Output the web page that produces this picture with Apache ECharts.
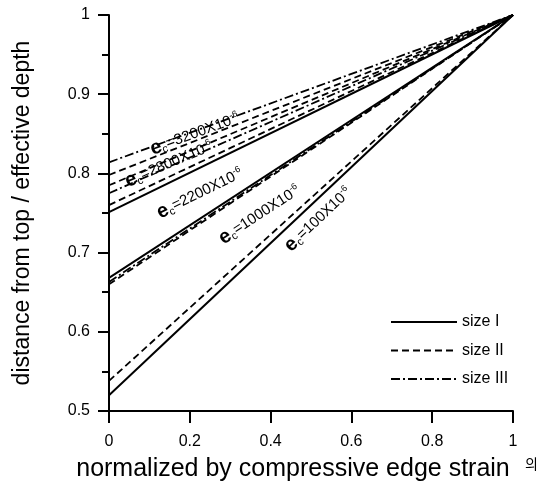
<!DOCTYPE html>
<html>
<head>
<meta charset="utf-8">
<script src="https://cdn.jsdelivr.net/npm/echarts@6/dist/echarts.min.js"></script>
<style>html,body{margin:0;padding:0;background:#fff}#c{width:560px;height:491px}</style>
</head>
<body>
<div id="c"></div>
<script>
// ---- data ----
const xTicks = [0, 0.2, 0.4, 0.6, 0.8, 1];
const yTicks = [0.5, 0.6, 0.7, 0.8, 0.9, 1];
// normalized depth at x = 0 for each strain level; all lines end at (1, 1)
const strainsI = [100, 1000, 2200];
const sizeI = [0.520, 0.668, 0.751];
const strainsII = [100, 1000, 2200, 2800, 3200];
const sizeII = [0.538, 0.660, 0.760, 0.785, 0.798];
const strainsIII = [1000, 2800, 3200];
const sizeIII = [0.663, 0.775, 0.814];
const labelStrains = [3200, 2800, 2200, 1000, 100];
const sizeNames = ['size I', 'size II', 'size III'];

// ---- label placement (annotation layout, not data) ----
const labelAnchor = {
  3200: {x: 0.212, y: 0.850, ref: 'III'},
  2800: {x: 0.148, y: 0.812, ref: 'II'},
  2200: {x: 0.225, y: 0.775, ref: 'I'},
  1000: {x: 0.373, y: 0.748, ref: 'I'},
  100:  {x: 0.518, y: 0.742, ref: 'I'}
};

const FONT = '"Liberation Sans", Arial, sans-serif';
const NARROW = '"Liberation Sans Narrow", "Arial Narrow", "Liberation Sans", sans-serif';
const styles = {
  'size I': {type: 'solid', width: 2},
  'size II': {type: [7, 4], width: 1.8},
  'size III': {type: [9, 3, 2, 3], width: 1.8}
};

function makeSeries(name, strains, vals) {
  return strains.map((s, i) => ({
    name: name,
    type: 'line',
    showSymbol: false,
    symbol: 'none',
    silent: true,
    animation: false,
    data: [[0, vals[i]], [1, 1]],
    itemStyle: {color: '#000'},
    lineStyle: Object.assign({color: '#000'}, styles[name])
  }));
}
const series = [].concat(
  makeSeries('size I', strainsI, sizeI),
  makeSeries('size II', strainsII, sizeII),
  makeSeries('size III', strainsIII, sizeIII)
);

const chart = echarts.init(document.getElementById('c'), null, {renderer: 'canvas'});
chart.setOption({
  animation: false,
  backgroundColor: '#fff',
  grid: {left: 109, right: 47, top: 15, bottom: 80},
  legend: {
    data: sizeNames,
    orient: 'vertical',
    left: 385, top: 309,
    itemWidth: 66, itemHeight: 14, itemGap: 12.5,
    itemStyle: {opacity: 0},
    textStyle: {fontFamily: FONT, fontSize: 16, color: '#000'}
  },
  xAxis: {
    type: 'value', min: 0, max: 1, interval: 0.2,
    name: 'normalized by compressive edge strain',
    nameLocation: 'middle', nameGap: 46,
    nameTextStyle: {fontFamily: FONT, fontSize: 25, color: '#000', padding: [0, 36, 0, 0]},
    axisLine: {lineStyle: {color: '#000', width: 2}},
    axisTick: {show: true, length: 12, lineStyle: {color: '#000', width: 2}},
    axisLabel: {fontFamily: FONT, fontSize: 16, color: '#000', margin: 23,
      formatter: v => String(parseFloat(v.toFixed(1)))},
    splitLine: {show: false}
  },
  yAxis: {
    type: 'value', min: 0.5, max: 1, interval: 0.1,
    name: 'distance from top / effective depth',
    nameLocation: 'middle', nameGap: 75, nameRotate: 90,
    nameTextStyle: {fontFamily: FONT, fontSize: 23, color: '#000'},
    axisLine: {lineStyle: {color: '#000', width: 2}},
    axisTick: {show: true, length: 11, lineStyle: {color: '#000', width: 2}},
    minorTick: {show: true, splitNumber: 2, length: 7, lineStyle: {color: '#000', width: 2}},
    axisLabel: {fontFamily: FONT, fontSize: 16, color: '#000', margin: 19,
      formatter: v => String(parseFloat(v.toFixed(1)))},
    splitLine: {show: false}
  },
  series: series
});

// strain annotations rotated along their lines
const refVals = {
  I: [strainsI, sizeI], II: [strainsII, sizeII], III: [strainsIII, sizeIII]
};
const rich = {
  e: {fontFamily: FONT, fontSize: 20, fontWeight: 'bold', color: '#000'},
  c: {fontFamily: FONT, fontSize: 11, color: '#000', padding: [9, 0, 0, 0]},
  t: {fontFamily: NARROW, fontSize: 15, color: '#000'},
  s: {fontFamily: NARROW, fontSize: 9, color: '#000', padding: [0, 0, 9, 0]}
};
const graphics = labelStrains.map(s => {
  const a = labelAnchor[s];
  const rv = refVals[a.ref];
  const b = rv[1][rv[0].indexOf(s)];
  const p0 = chart.convertToPixel({gridIndex: 0}, [0, b]);
  const p1 = chart.convertToPixel({gridIndex: 0}, [1, 1]);
  const ang = Math.atan2(p0[1] - p1[1], p1[0] - p0[0]);
  const pc = chart.convertToPixel({gridIndex: 0}, [a.x, a.y]);
  return {
    type: 'text', x: pc[0], y: pc[1], rotation: ang, z: 10,
    style: {
      text: '{e|e}{c|c}{t|=' + s + 'X10}{s|-6}',
      rich: rich, align: 'center', verticalAlign: 'middle'
    }
  };
});
graphics.push({
  type: 'text', left: 525, top: 457,
  style: {text: '의', fontFamily: '"Noto Sans CJK KR", sans-serif', fontSize: 14, fill: '#000'}
});
chart.setOption({graphic: graphics});
</script>
</body>
</html>
